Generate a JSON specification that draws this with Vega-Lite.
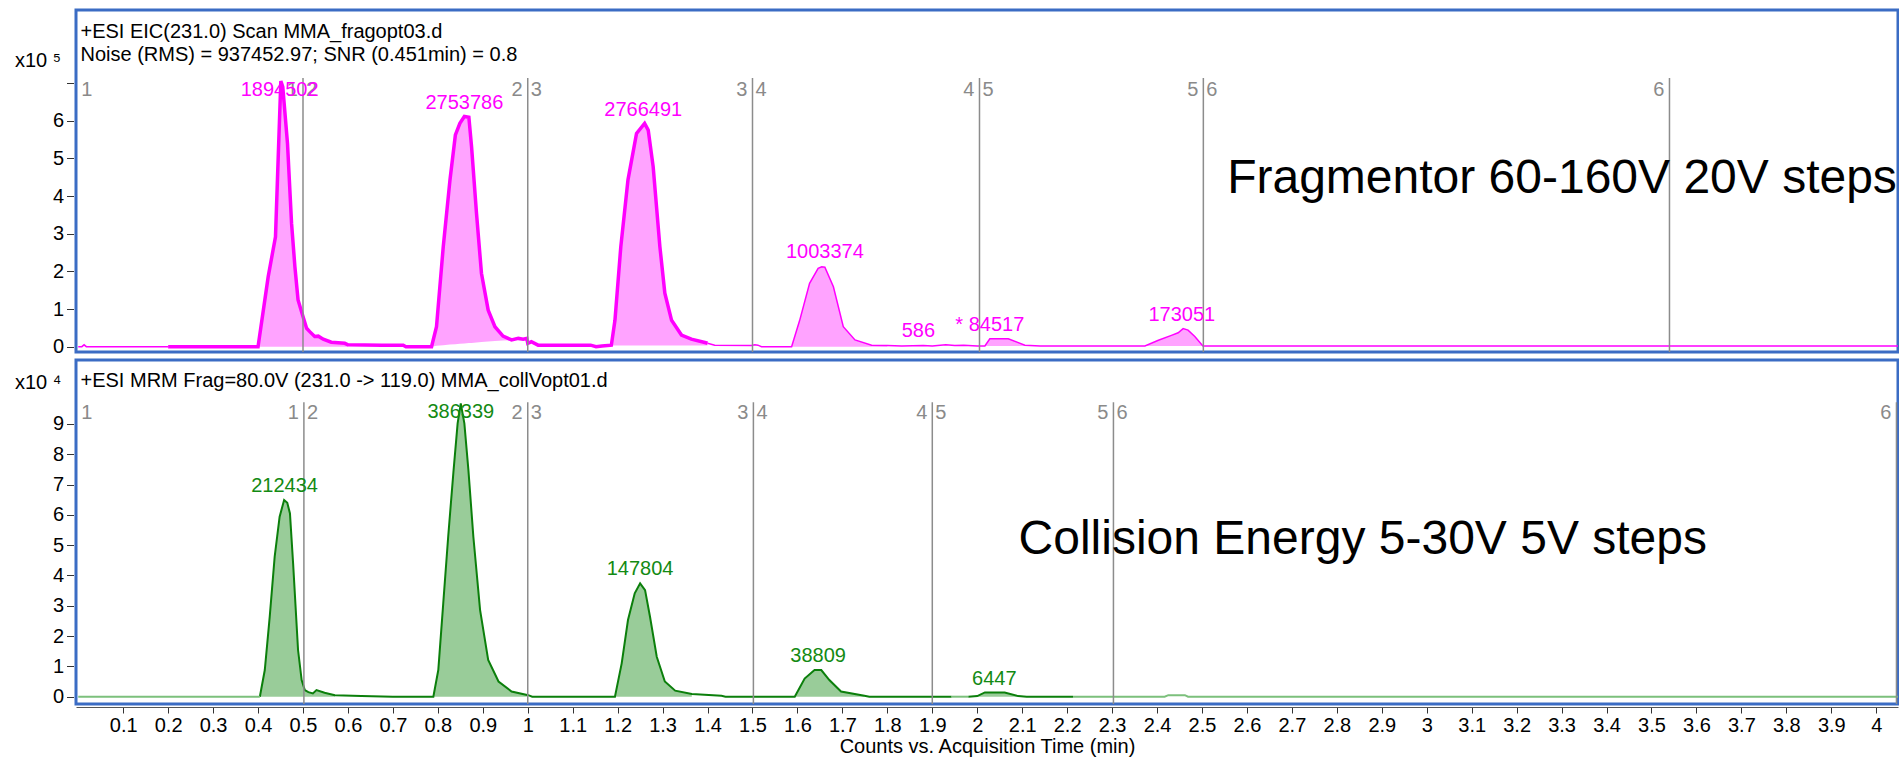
{
  "$schema": "https://vega.github.io/schema/vega-lite/v6.json",
  "padding": {"left": 13, "top": 8, "right": 0, "bottom": 0},
  "background": "white",
  "spacing": 8,
  "bounds": "flush",
  "resolve": {"scale": {"x": "independent", "y": "independent"}},
  "config": {
    "font": "Liberation Sans",
    "view": {"stroke": "#3b6cc4", "strokeWidth": 3},
    "axis": {"grid": false, "labelFont": "Liberation Sans", "titleFont": "Liberation Sans", "labelColor": "#000000", "titleColor": "#000000", "tickColor": "#333333", "domainColor": "#555555", "labelFontSize": 20, "titleFontSize": 20, "titleFontWeight": "normal", "labelOverlap": false},
    "text": {"font": "Liberation Sans"}
  },
  "datasets": {
    "top": [
      {"s": "m0", "t": 0, "v": 0}, {"s": "m0", "t": 0.008, "v": 0}, {"s": "m0", "t": 0.013, "v": 0.05}, {"s": "m0", "t": 0.018, "v": 0}, {"s": "m0", "t": 0.2, "v": 0},
      {"s": "m1", "t": 0.2, "v": 0},
      {"s": "m1", "t": 0.4, "v": 0, "k": 1, "b": 0},
      {"s": "m1", "t": 0.4226, "v": 1.86, "k": 1, "b": 0},
      {"s": "m1", "t": 0.4388, "v": 2.92, "k": 1, "b": 0},
      {"s": "m1", "t": 0.4507, "v": 7.05, "k": 1, "b": 0},
      {"s": "m1", "t": 0.455, "v": 6.9, "k": 1, "b": 0},
      {"s": "m1", "t": 0.4655, "v": 5.4, "k": 1, "b": 0},
      {"s": "m1", "t": 0.4745, "v": 3.28, "k": 1, "b": 0},
      {"s": "m1", "t": 0.482, "v": 2.12, "k": 1, "b": 0},
      {"s": "m1", "t": 0.489, "v": 1.24, "k": 1, "b": 0},
      {"s": "m1", "t": 0.5, "v": 0.8, "k": 1, "b": 0},
      {"s": "m1", "t": 0.508, "v": 0.49, "k": 1, "b": 0},
      {"s": "m1", "t": 0.515, "v": 0.4, "k": 1, "b": 0},
      {"s": "m1", "t": 0.526, "v": 0.27, "k": 1, "b": 0},
      {"s": "m1", "t": 0.534, "v": 0.28, "k": 1, "b": 0},
      {"s": "m1", "t": 0.545, "v": 0.2, "k": 1, "b": 0},
      {"s": "m1", "t": 0.563, "v": 0.12, "k": 1, "b": 0},
      {"s": "m1", "t": 0.593, "v": 0.09, "k": 1, "b": 0},
      {"s": "m1", "t": 0.6, "v": 0.05, "k": 1, "b": 0},
      {"s": "m1", "t": 0.675, "v": 0.04},
      {"s": "m1", "t": 0.723, "v": 0.04},
      {"s": "m1", "t": 0.729, "v": 0},
      {"s": "m1", "t": 0.786, "v": 0, "k": 2, "b": 0},
      {"s": "m1", "t": 0.797, "v": 0.53, "k": 2, "b": 0.027},
      {"s": "m1", "t": 0.812, "v": 2.65, "k": 2, "b": 0.041},
      {"s": "m1", "t": 0.827, "v": 4.43, "k": 2, "b": 0.055},
      {"s": "m1", "t": 0.839, "v": 5.62, "k": 2, "b": 0.067},
      {"s": "m1", "t": 0.849, "v": 5.93, "k": 2, "b": 0.076},
      {"s": "m1", "t": 0.859, "v": 6.11, "k": 2, "b": 0.086},
      {"s": "m1", "t": 0.869, "v": 6.09, "k": 2, "b": 0.095},
      {"s": "m1", "t": 0.875, "v": 5.31, "k": 2, "b": 0.101},
      {"s": "m1", "t": 0.886, "v": 3.54, "k": 2, "b": 0.111},
      {"s": "m1", "t": 0.897, "v": 1.95, "k": 2, "b": 0.122},
      {"s": "m1", "t": 0.912, "v": 0.97, "k": 2, "b": 0.136},
      {"s": "m1", "t": 0.927, "v": 0.53, "k": 2, "b": 0.15},
      {"s": "m1", "t": 0.945, "v": 0.28, "k": 2, "b": 0.165},
      {"s": "m1", "t": 0.964, "v": 0.18, "k": 2, "b": 0.17},
      {"s": "m1", "t": 0.979, "v": 0.22, "k": 2, "b": 0.2},
      {"s": "m1", "t": 0.99, "v": 0.2},
      {"s": "m1", "t": 0.998, "v": 0.22},
      {"s": "m1", "t": 1.0, "v": 0.09},
      {"s": "m1", "t": 1.008, "v": 0.13},
      {"s": "m1", "t": 1.023, "v": 0.04},
      {"s": "m1", "t": 1.14, "v": 0.04},
      {"s": "m1", "t": 1.152, "v": 0},
      {"s": "m1", "t": 1.165, "v": 0.02},
      {"s": "m1", "t": 1.186, "v": 0.04, "k": 3, "b": 0.03},
      {"s": "m1", "t": 1.194, "v": 0.7, "k": 3, "b": 0.03},
      {"s": "m1", "t": 1.207, "v": 2.65, "k": 3, "b": 0.03},
      {"s": "m1", "t": 1.223, "v": 4.43, "k": 3, "b": 0.03},
      {"s": "m1", "t": 1.242, "v": 5.66, "k": 3, "b": 0.03},
      {"s": "m1", "t": 1.26, "v": 5.93, "k": 3, "b": 0.03},
      {"s": "m1", "t": 1.268, "v": 5.75, "k": 3, "b": 0.03},
      {"s": "m1", "t": 1.279, "v": 4.78, "k": 3, "b": 0.03},
      {"s": "m1", "t": 1.294, "v": 2.65, "k": 3, "b": 0.03},
      {"s": "m1", "t": 1.305, "v": 1.42, "k": 3, "b": 0.03},
      {"s": "m1", "t": 1.32, "v": 0.7, "k": 3, "b": 0.03},
      {"s": "m1", "t": 1.342, "v": 0.31, "k": 3, "b": 0.03},
      {"s": "m1", "t": 1.364, "v": 0.2, "k": 3, "b": 0.03},
      {"s": "m1", "t": 1.394, "v": 0.11, "k": 3, "b": 0.03},
      {"s": "m1", "t": 1.4, "v": 0.09, "k": 3, "b": 0.03},
      {"s": "m2", "t": 1.4, "v": 0.09},
      {"s": "m2", "t": 1.416, "v": 0.04},
      {"s": "m2", "t": 1.498, "v": 0.03},
      {"s": "m2", "t": 1.505, "v": 0.05},
      {"s": "m2", "t": 1.512, "v": 0.04},
      {"s": "m2", "t": 1.52, "v": 0},
      {"s": "m2", "t": 1.587, "v": 0, "k": 4, "b": 0},
      {"s": "m2", "t": 1.605, "v": 0.7, "k": 4, "b": 0},
      {"s": "m2", "t": 1.627, "v": 1.68, "k": 4, "b": 0},
      {"s": "m2", "t": 1.646, "v": 2.08, "k": 4, "b": 0},
      {"s": "m2", "t": 1.654, "v": 2.12, "k": 4, "b": 0},
      {"s": "m2", "t": 1.661, "v": 2.11, "k": 4, "b": 0},
      {"s": "m2", "t": 1.68, "v": 1.59, "k": 4, "b": 0},
      {"s": "m2", "t": 1.702, "v": 0.53, "k": 4, "b": 0},
      {"s": "m2", "t": 1.728, "v": 0.18, "k": 4, "b": 0},
      {"s": "m2", "t": 1.765, "v": 0.04, "k": 4, "b": 0},
      {"s": "m2", "t": 1.8, "v": 0.03, "k": 4, "b": 0},
      {"s": "m2", "t": 1.832, "v": 0.02},
      {"s": "m2", "t": 1.88, "v": 0.03},
      {"s": "m2", "t": 1.9, "v": 0.02},
      {"s": "m2", "t": 1.93, "v": 0.05},
      {"s": "m2", "t": 1.95, "v": 0.03},
      {"s": "m2", "t": 1.97, "v": 0.04},
      {"s": "m2", "t": 2.0, "v": 0.02},
      {"s": "m2", "t": 2.017, "v": 0.02, "k": 5, "b": 0.02},
      {"s": "m2", "t": 2.028, "v": 0.21, "k": 5, "b": 0.02},
      {"s": "m2", "t": 2.069, "v": 0.21, "k": 5, "b": 0.02},
      {"s": "m2", "t": 2.106, "v": 0.04, "k": 5, "b": 0.02},
      {"s": "m2", "t": 2.14, "v": 0.02, "k": 5, "b": 0.02},
      {"s": "m2", "t": 2.161, "v": 0.02},
      {"s": "m2", "t": 2.373, "v": 0.02, "k": 6, "b": 0.02},
      {"s": "m2", "t": 2.403, "v": 0.17, "k": 6, "b": 0.02},
      {"s": "m2", "t": 2.432, "v": 0.3, "k": 6, "b": 0.02},
      {"s": "m2", "t": 2.447, "v": 0.37, "k": 6, "b": 0.02},
      {"s": "m2", "t": 2.458, "v": 0.48, "k": 6, "b": 0.02},
      {"s": "m2", "t": 2.469, "v": 0.44, "k": 6, "b": 0.02},
      {"s": "m2", "t": 2.484, "v": 0.27, "k": 6, "b": 0.02},
      {"s": "m2", "t": 2.502, "v": 0.02, "k": 6, "b": 0.02},
      {"s": "m2", "t": 4.06, "v": 0.02}
    ],
    "bot": [
      {"s": "g0", "t": 0, "v": 0}, {"s": "g0", "t": 0.404, "v": 0},
      {"s": "g1", "t": 0.404, "v": 0, "k": 1, "b": 0},
      {"s": "g1", "t": 0.415, "v": 0.88, "k": 1, "b": 0},
      {"s": "g1", "t": 0.426, "v": 2.64, "k": 1, "b": 0},
      {"s": "g1", "t": 0.437, "v": 4.62, "k": 1, "b": 0},
      {"s": "g1", "t": 0.448, "v": 5.94, "k": 1, "b": 0},
      {"s": "g1", "t": 0.458, "v": 6.49, "k": 1, "b": 0},
      {"s": "g1", "t": 0.465, "v": 6.4, "k": 1, "b": 0},
      {"s": "g1", "t": 0.471, "v": 6.05, "k": 1, "b": 0},
      {"s": "g1", "t": 0.478, "v": 4.4, "k": 1, "b": 0},
      {"s": "g1", "t": 0.489, "v": 1.54, "k": 1, "b": 0},
      {"s": "g1", "t": 0.497, "v": 0.55, "k": 1, "b": 0},
      {"s": "g1", "t": 0.504, "v": 0.22, "k": 1, "b": 0},
      {"s": "g1", "t": 0.512, "v": 0.15, "k": 1, "b": 0},
      {"s": "g1", "t": 0.522, "v": 0.11, "k": 1, "b": 0},
      {"s": "g1", "t": 0.53, "v": 0.22, "k": 1, "b": 0},
      {"s": "g1", "t": 0.548, "v": 0.13, "k": 1, "b": 0},
      {"s": "g1", "t": 0.571, "v": 0.05, "k": 1, "b": 0},
      {"s": "g1", "t": 0.63, "v": 0.02},
      {"s": "g1", "t": 0.7, "v": 0},
      {"s": "g1", "t": 0.79, "v": 0, "k": 2, "b": 0},
      {"s": "g1", "t": 0.801, "v": 0.88, "k": 2, "b": 0},
      {"s": "g1", "t": 0.812, "v": 3.08, "k": 2, "b": 0},
      {"s": "g1", "t": 0.823, "v": 5.28, "k": 2, "b": 0},
      {"s": "g1", "t": 0.835, "v": 7.48, "k": 2, "b": 0},
      {"s": "g1", "t": 0.844, "v": 9.02, "k": 2, "b": 0},
      {"s": "g1", "t": 0.851, "v": 9.68, "k": 2, "b": 0},
      {"s": "g1", "t": 0.859, "v": 9.02, "k": 2, "b": 0},
      {"s": "g1", "t": 0.868, "v": 7.48, "k": 2, "b": 0},
      {"s": "g1", "t": 0.879, "v": 5.28, "k": 2, "b": 0},
      {"s": "g1", "t": 0.894, "v": 2.86, "k": 2, "b": 0},
      {"s": "g1", "t": 0.912, "v": 1.21, "k": 2, "b": 0},
      {"s": "g1", "t": 0.935, "v": 0.5, "k": 2, "b": 0},
      {"s": "g1", "t": 0.964, "v": 0.17, "k": 2, "b": 0},
      {"s": "g1", "t": 1.001, "v": 0.05, "k": 2, "b": 0},
      {"s": "g1", "t": 1.01, "v": 0},
      {"s": "g1", "t": 1.194, "v": 0, "k": 3, "b": 0},
      {"s": "g1", "t": 1.209, "v": 1.1, "k": 3, "b": 0},
      {"s": "g1", "t": 1.223, "v": 2.53, "k": 3, "b": 0},
      {"s": "g1", "t": 1.238, "v": 3.41, "k": 3, "b": 0},
      {"s": "g1", "t": 1.25, "v": 3.74, "k": 3, "b": 0},
      {"s": "g1", "t": 1.261, "v": 3.52, "k": 3, "b": 0},
      {"s": "g1", "t": 1.272, "v": 2.64, "k": 3, "b": 0},
      {"s": "g1", "t": 1.287, "v": 1.32, "k": 3, "b": 0},
      {"s": "g1", "t": 1.305, "v": 0.5, "k": 3, "b": 0},
      {"s": "g1", "t": 1.328, "v": 0.2, "k": 3, "b": 0},
      {"s": "g1", "t": 1.365, "v": 0.09, "k": 3, "b": 0},
      {"s": "g1", "t": 1.431, "v": 0.03},
      {"s": "g1", "t": 1.44, "v": 0},
      {"s": "g1", "t": 1.594, "v": 0, "k": 4, "b": 0},
      {"s": "g1", "t": 1.616, "v": 0.6, "k": 4, "b": 0},
      {"s": "g1", "t": 1.638, "v": 0.88, "k": 4, "b": 0},
      {"s": "g1", "t": 1.653, "v": 0.88, "k": 4, "b": 0},
      {"s": "g1", "t": 1.671, "v": 0.55, "k": 4, "b": 0},
      {"s": "g1", "t": 1.697, "v": 0.17, "k": 4, "b": 0},
      {"s": "g1", "t": 1.749, "v": 0.03, "k": 4, "b": 0},
      {"s": "g1", "t": 1.76, "v": 0},
      {"s": "g1", "t": 1.943, "v": 0},
      {"s": "g2", "t": 1.943, "v": 0}, {"s": "g2", "t": 1.98, "v": 0},
      {"s": "g3", "t": 1.98, "v": 0, "k": 5, "b": 0},
      {"s": "g3", "t": 2.0, "v": 0.02, "k": 5, "b": 0},
      {"s": "g3", "t": 2.017, "v": 0.14, "k": 5, "b": 0},
      {"s": "g3", "t": 2.061, "v": 0.14, "k": 5, "b": 0},
      {"s": "g3", "t": 2.091, "v": 0.02, "k": 5, "b": 0},
      {"s": "g3", "t": 2.11, "v": 0, "k": 5, "b": 0},
      {"s": "g3", "t": 2.213, "v": 0},
      {"s": "g4", "t": 2.213, "v": 0},
      {"s": "g4", "t": 2.417, "v": 0},
      {"s": "g4", "t": 2.425, "v": 0.05},
      {"s": "g4", "t": 2.462, "v": 0.05},
      {"s": "g4", "t": 2.469, "v": 0},
      {"s": "g4", "t": 4.06, "v": 0}
    ],
    "plab": [
      {"p": "top", "t": 0.448, "v": 6.81, "txt": "1894502"},
      {"p": "top", "t": 0.859, "v": 6.48, "txt": "2753786"},
      {"p": "top", "t": 1.257, "v": 6.28, "txt": "2766491"},
      {"p": "top", "t": 1.661, "v": 2.52, "txt": "1003374"},
      {"p": "top", "t": 1.869, "v": 0.42, "txt": "586"},
      {"p": "top", "t": 2.028, "v": 0.58, "txt": "* 84517"},
      {"p": "top", "t": 2.455, "v": 0.84, "txt": "173051"},
      {"p": "bot", "t": 0.459, "v": 6.95, "txt": "212434"},
      {"p": "bot", "t": 0.851, "v": 9.41, "txt": "386339"},
      {"p": "bot", "t": 1.25, "v": 4.2, "txt": "147804"},
      {"p": "bot", "t": 1.646, "v": 1.34, "txt": "38809"},
      {"p": "bot", "t": 2.038, "v": 0.57, "txt": "6447"}
    ],
    "seg": [
      {"p": "top", "t": 0.5}, {"p": "top", "t": 1.0}, {"p": "top", "t": 1.5}, {"p": "top", "t": 2.005}, {"p": "top", "t": 2.503}, {"p": "top", "t": 3.54},
      {"p": "bot", "t": 0.502}, {"p": "bot", "t": 1.0}, {"p": "bot", "t": 1.502}, {"p": "bot", "t": 1.9}, {"p": "bot", "t": 2.303}, {"p": "bot", "t": 4.045}
    ],
    "slab": [
      {"p": "top", "t": 0, "txt": "1", "side": "R"},
      {"p": "top", "t": 0.5, "txt": "1", "side": "L"}, {"p": "top", "t": 0.5, "txt": "2", "side": "R"},
      {"p": "top", "t": 1.0, "txt": "2", "side": "L"}, {"p": "top", "t": 1.0, "txt": "3", "side": "R"},
      {"p": "top", "t": 1.5, "txt": "3", "side": "L"}, {"p": "top", "t": 1.5, "txt": "4", "side": "R"},
      {"p": "top", "t": 2.005, "txt": "4", "side": "L"}, {"p": "top", "t": 2.005, "txt": "5", "side": "R"},
      {"p": "top", "t": 2.503, "txt": "5", "side": "L"}, {"p": "top", "t": 2.503, "txt": "6", "side": "R"},
      {"p": "top", "t": 3.54, "txt": "6", "side": "L"},
      {"p": "bot", "t": 0, "txt": "1", "side": "R"},
      {"p": "bot", "t": 0.502, "txt": "1", "side": "L"}, {"p": "bot", "t": 0.502, "txt": "2", "side": "R"},
      {"p": "bot", "t": 1.0, "txt": "2", "side": "L"}, {"p": "bot", "t": 1.0, "txt": "3", "side": "R"},
      {"p": "bot", "t": 1.502, "txt": "3", "side": "L"}, {"p": "bot", "t": 1.502, "txt": "4", "side": "R"},
      {"p": "bot", "t": 1.9, "txt": "4", "side": "L"}, {"p": "bot", "t": 1.9, "txt": "5", "side": "R"},
      {"p": "bot", "t": 2.303, "txt": "5", "side": "L"}, {"p": "bot", "t": 2.303, "txt": "6", "side": "R"},
      {"p": "bot", "t": 4.045, "txt": "6", "side": "L"}
    ],
    "notes": [
      {"p": "top", "kind": "hdr", "t": 0.005, "v": 8.35, "txt": "+ESI EIC(231.0) Scan MMA_fragopt03.d"},
      {"p": "top", "kind": "hdr", "t": 0.005, "v": 7.74, "txt": "Noise (RMS) = 937452.97; SNR (0.451min) = 0.8"},
      {"p": "top", "kind": "big", "t": 2.556, "v": 4.46, "txt": "Fragmentor 60-160V 20V steps"},
      {"p": "bot", "kind": "hdr", "t": 0.005, "v": 10.41, "txt": "+ESI MRM Frag=80.0V (231.0 -> 119.0) MMA_collVopt01.d"},
      {"p": "bot", "kind": "big", "t": 2.092, "v": 5.16, "txt": "Collision Energy 5-30V 5V steps"}
    ]
  },
  "vconcat": [
    {
      "width": 1822,
      "height": 342,
      "encoding": {
        "x": {"field": "t", "type": "quantitative", "scale": {"domain": [-0.005, 4.0484], "nice": false, "zero": false}, "axis": null}
      },
      "layer": [
        {
          "data": {"name": "top"},
          "transform": [{"filter": "isValid(datum.k)"}],
          "mark": {"type": "area", "color": "#ff00ff", "opacity": 0.36, "clip": true},
          "encoding": {
            "y": {"field": "v", "type": "quantitative", "scale": {"domain": [-0.141, 8.938], "nice": false, "zero": false},
                  "axis": {"values": [0, 1, 2, 3, 4, 5, 6, 7], "tickCount": 20, "format": "d", "labelExpr": "datum.value == 7 ? '' : datum.label", "domain": false, "offset": 2.5, "tickSize": 7, "tickColor": "#333333", "labelPadding": 3, "labelFontSize": 20, "labelOverlap": false, "title": "x10 ⁵", "titleFontSize": 20, "titleFontWeight": "normal", "titleAngle": 0, "titleAlign": "left", "titleBaseline": "middle", "titleX": -59, "titleY": 50}},
            "y2": {"field": "b"},
            "detail": {"field": "k"}
          }
        },
        {
          "data": {"name": "top"},
          "transform": [{"filter": "datum.s == 'm1'"}],
          "mark": {"type": "line", "color": "#ff00ff", "strokeWidth": 3.5, "clip": true},
          "encoding": {"y": {"field": "v", "type": "quantitative"}}
        },
        {
          "data": {"name": "top"},
          "transform": [{"filter": "datum.s != 'm1'"}],
          "mark": {"type": "line", "color": "#ff00ff", "strokeWidth": 1.5, "clip": true},
          "encoding": {"y": {"field": "v", "type": "quantitative"}, "detail": {"field": "s"}}
        },
        {
          "data": {"name": "seg"},
          "transform": [{"filter": "datum.p == 'top'"}],
          "mark": {"type": "rule", "color": "#8c8c8c", "strokeWidth": 1.5},
          "encoding": {"y": {"datum": 7.13}, "y2": {"datum": -0.141}}
        },
        {
          "data": {"name": "slab"},
          "transform": [{"filter": "datum.p == 'top' && datum.side == 'L'"}],
          "mark": {"type": "text", "color": "#8a8a8a", "fontSize": 20, "align": "right", "baseline": "middle", "dx": -5},
          "encoding": {"y": {"datum": 6.81}, "text": {"field": "txt"}}
        },
        {
          "data": {"name": "slab"},
          "transform": [{"filter": "datum.p == 'top' && datum.side == 'R'"}],
          "mark": {"type": "text", "color": "#8a8a8a", "fontSize": 20, "align": "left", "baseline": "middle", "dx": 3},
          "encoding": {"y": {"datum": 6.81}, "text": {"field": "txt"}}
        },
        {
          "data": {"name": "plab"},
          "transform": [{"filter": "datum.p == 'top'"}],
          "mark": {"type": "text", "color": "#ff00ff", "fontSize": 20, "align": "center", "baseline": "middle"},
          "encoding": {"y": {"field": "v", "type": "quantitative"}, "text": {"field": "txt"}}
        },
        {
          "data": {"name": "notes"},
          "transform": [{"filter": "datum.p == 'top' && datum.kind == 'hdr'"}],
          "mark": {"type": "text", "color": "#000000", "fontSize": 20, "align": "left", "baseline": "middle"},
          "encoding": {"y": {"field": "v", "type": "quantitative"}, "text": {"field": "txt"}}
        },
        {
          "data": {"name": "notes"},
          "transform": [{"filter": "datum.p == 'top' && datum.kind == 'big'"}],
          "mark": {"type": "text", "color": "#000000", "fontSize": 48, "align": "left", "baseline": "middle"},
          "encoding": {"y": {"field": "v", "type": "quantitative"}, "text": {"field": "txt"}}
        }
      ]
    },
    {
      "width": 1822,
      "height": 344,
      "encoding": {
        "x": {"field": "t", "type": "quantitative", "scale": {"domain": [-0.005, 4.0484], "nice": false, "zero": false},
              "axis": {"values": [0.1, 0.2, 0.3, 0.4, 0.5, 0.6, 0.7, 0.8, 0.9, 1, 1.1, 1.2, 1.3, 1.4, 1.5, 1.6, 1.7, 1.8, 1.9, 2, 2.1, 2.2, 2.3, 2.4, 2.5, 2.6, 2.7, 2.8, 2.9, 3, 3.1, 3.2, 3.3, 3.4, 3.5, 3.6, 3.7, 3.8, 3.9, 4], "tickCount": 80, "format": "~g", "offset": 3, "tickSize": 6, "tickColor": "#333333", "domainColor": "#555555", "labelPadding": 2, "labelFontSize": 20, "titlePadding": 1, "titleFontSize": 20, "titleFontWeight": "normal", "labelOverlap": false, "labelFlush": false, "title": "Counts vs. Acquisition Time (min)"}}
      },
      "layer": [
        {
          "data": {"name": "bot"},
          "transform": [{"filter": "isValid(datum.k)"}],
          "mark": {"type": "area", "color": "#008000", "opacity": 0.4, "clip": true},
          "encoding": {
            "y": {"field": "v", "type": "quantitative", "scale": {"domain": [-0.241, 11.112], "nice": false, "zero": false},
                  "axis": {"values": [0, 1, 2, 3, 4, 5, 6, 7, 8, 9], "tickCount": 20, "format": "d", "domain": false, "offset": 2.5, "tickSize": 7, "tickColor": "#333333", "labelPadding": 3, "labelFontSize": 20, "labelOverlap": false, "title": "x10 ⁴", "titleFontSize": 20, "titleFontWeight": "normal", "titleAngle": 0, "titleAlign": "left", "titleBaseline": "middle", "titleX": -59, "titleY": 22}},
            "y2": {"field": "b"},
            "detail": {"field": "k"}
          }
        },
        {
          "data": {"name": "bot"},
          "transform": [{"filter": "datum.s == 'g1' || datum.s == 'g3'"}],
          "mark": {"type": "line", "color": "#0b7f0b", "strokeWidth": 2, "clip": true},
          "encoding": {"y": {"field": "v", "type": "quantitative"}, "detail": {"field": "s"}}
        },
        {
          "data": {"name": "bot"},
          "transform": [{"filter": "datum.s == 'g0' || datum.s == 'g2' || datum.s == 'g4'"}],
          "mark": {"type": "line", "color": "#7cc07c", "strokeWidth": 2, "clip": true},
          "encoding": {"y": {"field": "v", "type": "quantitative"}, "detail": {"field": "s"}}
        },
        {
          "data": {"name": "seg"},
          "transform": [{"filter": "datum.p == 'bot'"}],
          "mark": {"type": "rule", "color": "#8c8c8c", "strokeWidth": 1.5},
          "encoding": {"y": {"datum": 9.72}, "y2": {"datum": -0.241}}
        },
        {
          "data": {"name": "slab"},
          "transform": [{"filter": "datum.p == 'bot' && datum.side == 'L'"}],
          "mark": {"type": "text", "color": "#8a8a8a", "fontSize": 20, "align": "right", "baseline": "middle", "dx": -5},
          "encoding": {"y": {"datum": 9.36}, "text": {"field": "txt"}}
        },
        {
          "data": {"name": "slab"},
          "transform": [{"filter": "datum.p == 'bot' && datum.side == 'R'"}],
          "mark": {"type": "text", "color": "#8a8a8a", "fontSize": 20, "align": "left", "baseline": "middle", "dx": 3},
          "encoding": {"y": {"datum": 9.36}, "text": {"field": "txt"}}
        },
        {
          "data": {"name": "plab"},
          "transform": [{"filter": "datum.p == 'bot'"}],
          "mark": {"type": "text", "color": "#138a13", "fontSize": 20, "align": "center", "baseline": "middle"},
          "encoding": {"y": {"field": "v", "type": "quantitative"}, "text": {"field": "txt"}}
        },
        {
          "data": {"name": "notes"},
          "transform": [{"filter": "datum.p == 'bot' && datum.kind == 'hdr'"}],
          "mark": {"type": "text", "color": "#000000", "fontSize": 20, "align": "left", "baseline": "middle"},
          "encoding": {"y": {"field": "v", "type": "quantitative"}, "text": {"field": "txt"}}
        },
        {
          "data": {"name": "notes"},
          "transform": [{"filter": "datum.p == 'bot' && datum.kind == 'big'"}],
          "mark": {"type": "text", "color": "#000000", "fontSize": 48, "align": "left", "baseline": "middle"},
          "encoding": {"y": {"field": "v", "type": "quantitative"}, "text": {"field": "txt"}}
        }
      ]
    }
  ]
}
